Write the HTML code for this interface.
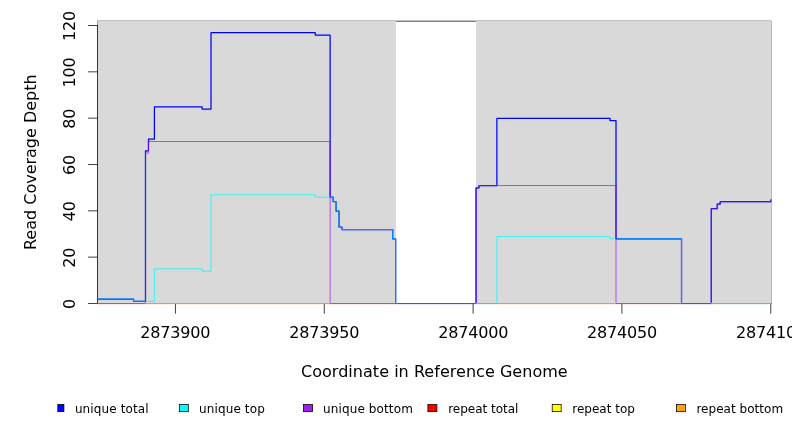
<!DOCTYPE html><html><head><meta charset="utf-8"><title>Coverage</title><style>html,body{margin:0;padding:0;background:#fff}svg{display:block}</style></head><body>
<svg width="792" height="432" viewBox="0 0 792 432">
<rect width="792" height="432" fill="#fff"/>
<g shape-rendering="crispEdges">
<rect x="97" y="20" width="674" height="1" fill="#c2c2c2"/>
<rect x="97" y="21" width="675" height="283" fill="#d9d9d9"/>
<rect x="97" y="21" width="1" height="5" fill="#a4a4a4"/>
<rect x="771" y="21" width="1" height="283" fill="#b9b9b9"/>
</g>
<rect x="395.94" y="21" width="80.11" height="284" fill="#fff"/>
<rect x="395.94" y="21" width="80.11" height="1" fill="#828282"/>
<path d="M97.5 303.85V25.14" stroke="#000" stroke-width="0.75" fill="none"/>
<path d="M97.5 303.47H88.00" stroke="#000" stroke-width="0.75" fill="none"/>
<text transform="translate(74.9 304.02) rotate(-90)" x="-5.00" letter-spacing="-0.18" font-size="16" font-family="DejaVu Sans, Liberation Sans, sans-serif">0</text>
<path d="M97.5 257.14H88.00" stroke="#000" stroke-width="0.75" fill="none"/>
<text transform="translate(74.9 257.69) rotate(-90)" x="-10.00" letter-spacing="-0.18" font-size="16" font-family="DejaVu Sans, Liberation Sans, sans-serif">20</text>
<path d="M97.5 210.82H88.00" stroke="#000" stroke-width="0.75" fill="none"/>
<text transform="translate(74.9 211.37) rotate(-90)" x="-10.00" letter-spacing="-0.18" font-size="16" font-family="DejaVu Sans, Liberation Sans, sans-serif">40</text>
<path d="M97.5 164.49H88.00" stroke="#000" stroke-width="0.75" fill="none"/>
<text transform="translate(74.9 165.04) rotate(-90)" x="-10.00" letter-spacing="-0.18" font-size="16" font-family="DejaVu Sans, Liberation Sans, sans-serif">60</text>
<path d="M97.5 118.17H88.00" stroke="#000" stroke-width="0.75" fill="none"/>
<text transform="translate(74.9 118.72) rotate(-90)" x="-10.00" letter-spacing="-0.18" font-size="16" font-family="DejaVu Sans, Liberation Sans, sans-serif">80</text>
<path d="M97.5 71.84H88.00" stroke="#000" stroke-width="0.75" fill="none"/>
<text transform="translate(74.9 72.39) rotate(-90)" x="-15.00" letter-spacing="-0.18" font-size="16" font-family="DejaVu Sans, Liberation Sans, sans-serif">100</text>
<path d="M97.5 25.51H88.00" stroke="#000" stroke-width="0.75" fill="none"/>
<text transform="translate(74.9 26.06) rotate(-90)" x="-15.00" letter-spacing="-0.18" font-size="16" font-family="DejaVu Sans, Liberation Sans, sans-serif">120</text>
<path d="M175.45 303.90V313.70" stroke="#000" stroke-width="0.75" fill="none"/>
<text x="140.37" y="338" letter-spacing="-0.18" font-size="16" font-family="DejaVu Sans, Liberation Sans, sans-serif">2873900</text>
<path d="M324.27 303.90V313.70" stroke="#000" stroke-width="0.75" fill="none"/>
<text x="289.27" y="338" letter-spacing="-0.18" font-size="16" font-family="DejaVu Sans, Liberation Sans, sans-serif">2873950</text>
<path d="M473.10 303.90V313.70" stroke="#000" stroke-width="0.75" fill="none"/>
<text x="438.17" y="338" letter-spacing="-0.18" font-size="16" font-family="DejaVu Sans, Liberation Sans, sans-serif">2874000</text>
<path d="M621.92 303.90V313.70" stroke="#000" stroke-width="0.75" fill="none"/>
<text x="587.07" y="338" letter-spacing="-0.18" font-size="16" font-family="DejaVu Sans, Liberation Sans, sans-serif">2874050</text>
<path d="M770.75 303.90V313.70" stroke="#000" stroke-width="0.75" fill="none"/>
<text x="735.97" y="338" letter-spacing="-0.18" font-size="16" font-family="DejaVu Sans, Liberation Sans, sans-serif">2874100</text>
<clipPath id="c"><rect x="97.45" y="20.30" width="674.25" height="282.42"/></clipPath>
<g clip-path="url(#c)" fill="none" stroke-linejoin="round">
<path d="M97.00 299.00H133.58V301.31H145.49V150.79H148.47V139.22H154.42V106.80H202.07V109.11H211.01V32.69H315.24V35.01H330.13V197.11H333.10V201.74H336.08V211.00H339.06V227.21H342.04V229.53H392.66V238.79H395.64V303.63H476.05V187.84H479.03V185.53H496.89V118.37H610.06V120.69H616.01V238.79H681.53V303.63H711.31V208.69H717.27V204.05H720.24V201.74H770.87V199.42" stroke="#0000ff" stroke-width="1.25"/>
<path d="M97.00 299.00H133.58V301.31H154.42V268.89H202.07V271.21H211.01V194.79H315.24V197.11H333.10V201.74H336.08V211.00H339.06V227.21H342.04V229.53H392.66V238.79H395.64V303.63H496.89V236.47H610.06V238.79H681.53V303.63H770.87" stroke="#00ffff" stroke-width="0.75"/>
<path d="M97.00 303.63H145.49V153.11H148.47V141.53H330.13V303.63H476.05V187.84H479.03V185.53H616.01V303.63H711.31V208.69H717.27V204.05H720.24V201.74H770.87V199.42" stroke="#a020f0" stroke-width="0.75"/>
<path d="M97.00 299.00H133.58M133.58 301.31H145.49M330.13 197.11H333.10M333.10 201.74H336.08M336.08 211.00H339.06M339.06 227.21H342.04M342.04 229.53H392.66M392.66 238.79H395.64M395.64 303.63H476.05M616.01 238.79H681.53M681.53 303.63H711.31M133.58 301.31V299.00M333.10 201.74V197.11M336.08 211.00V201.74M339.06 227.21V211.00M342.04 229.53V227.21M392.66 238.79V229.53M395.64 303.63V238.79M681.53 303.63V238.79M395.64 303.63H476.05M476.05 187.84H479.03M479.03 185.53H496.89M681.53 303.63H711.31M711.31 208.69H717.27M717.27 204.05H720.24M720.24 201.74H770.87M145.49 301.31V153.11M148.47 150.79V141.53M330.13 197.11V141.53M476.05 303.63V187.84M479.03 187.84V185.53M616.01 238.79V185.53M711.31 303.63V208.69M717.27 208.69V204.05M720.24 204.05V201.74M770.87 201.74V199.42" stroke="#0000ff" stroke-width="1.25" stroke-opacity="0.22"/>
</g>
<rect x="98.00" y="303" width="47.49" height="1" fill="#cd4b7d"/>
<rect x="98.00" y="304" width="47.49" height="1" fill="#cd4b7d" fill-opacity="0.13"/>
<rect x="145.49" y="303" width="184.64" height="1" fill="#ff9614"/>
<rect x="145.49" y="304" width="184.64" height="1" fill="#ff9614" fill-opacity="0.13"/>
<rect x="330.13" y="303" width="65.52" height="1" fill="#cd4b7d"/>
<rect x="330.13" y="304" width="65.52" height="1" fill="#cd4b7d" fill-opacity="0.13"/>
<rect x="395.64" y="303" width="80.41" height="1" fill="#5a41f5"/>
<rect x="395.64" y="304" width="80.41" height="1" fill="#5a41f5" fill-opacity="0.13"/>
<rect x="476.05" y="303" width="20.85" height="1" fill="#69c878"/>
<rect x="476.05" y="304" width="20.85" height="1" fill="#69c878" fill-opacity="0.13"/>
<rect x="496.89" y="303" width="119.12" height="1" fill="#ff9614"/>
<rect x="496.89" y="304" width="119.12" height="1" fill="#ff9614" fill-opacity="0.13"/>
<rect x="616.01" y="303" width="65.52" height="1" fill="#cd4b7d"/>
<rect x="616.01" y="304" width="65.52" height="1" fill="#cd4b7d" fill-opacity="0.13"/>
<rect x="681.53" y="303" width="29.78" height="1" fill="#5a41f5"/>
<rect x="681.53" y="304" width="29.78" height="1" fill="#5a41f5" fill-opacity="0.13"/>
<rect x="711.31" y="303" width="59.69" height="1" fill="#69c878"/>
<rect x="711.31" y="304" width="59.69" height="1" fill="#69c878" fill-opacity="0.13"/>
<rect x="97" y="303" width="1" height="1" fill="#c83214"/>
<rect x="771" y="303" width="1" height="1" fill="#d05a46"/>
<text x="300.95" y="377.2" letter-spacing="0.036" font-size="16" font-family="DejaVu Sans, Liberation Sans, sans-serif">Coordinate in Reference Genome</text>
<text transform="translate(36.3 162.2) rotate(-90)" text-anchor="middle" font-size="16" font-family="DejaVu Sans, Liberation Sans, sans-serif">Read Coverage Depth</text>
<clipPath id="lc"><rect x="57.3" y="400" width="20" height="20"/></clipPath>
<rect x="54.90" y="404.45" width="9.0" height="7.2" fill="#0000ff" stroke="#000" stroke-width="0.75" clip-path="url(#lc)"/>
<text x="74.90" y="413.3" letter-spacing="0.120" font-size="12" font-family="DejaVu Sans, Liberation Sans, sans-serif">unique total</text>
<rect x="179.30" y="404.45" width="9.0" height="7.2" fill="#00ffff" stroke="#000" stroke-width="0.75"/>
<text x="199.00" y="413.3" letter-spacing="0.130" font-size="12" font-family="DejaVu Sans, Liberation Sans, sans-serif">unique top</text>
<rect x="303.60" y="404.45" width="9.0" height="7.2" fill="#a020f0" stroke="#000" stroke-width="0.75"/>
<text x="323.10" y="413.3" letter-spacing="0.115" font-size="12" font-family="DejaVu Sans, Liberation Sans, sans-serif">unique bottom</text>
<rect x="427.90" y="404.45" width="9.0" height="7.2" fill="#ff0000" stroke="#000" stroke-width="0.75"/>
<text x="448.20" y="413.3" letter-spacing="-0.020" font-size="12" font-family="DejaVu Sans, Liberation Sans, sans-serif">repeat total</text>
<rect x="552.20" y="404.45" width="9.0" height="7.2" fill="#ffff00" stroke="#000" stroke-width="0.75"/>
<text x="572.30" y="413.3" letter-spacing="0.000" font-size="12" font-family="DejaVu Sans, Liberation Sans, sans-serif">repeat top</text>
<rect x="676.50" y="404.45" width="9.0" height="7.2" fill="#ffa500" stroke="#000" stroke-width="0.75"/>
<text x="696.40" y="413.3" letter-spacing="0.030" font-size="12" font-family="DejaVu Sans, Liberation Sans, sans-serif">repeat bottom</text>
<rect x="419.6" y="402.9" width="1.2" height="0.8" fill="#ccc"/>
</svg></body></html>
